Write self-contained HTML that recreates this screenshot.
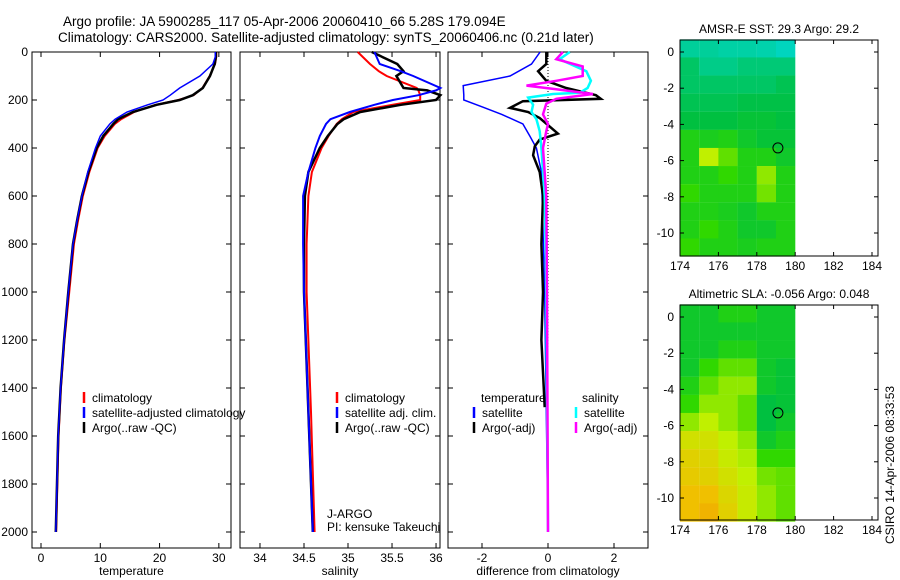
<!DOCTYPE html>
<html><head><meta charset="utf-8"><style>
body{margin:0;background:#fff;}
svg{display:block;font-family:"Liberation Sans",sans-serif;}
</style></head><body>
<svg id="fig" width="900" height="580" viewBox="0 0 900 580" xmlns="http://www.w3.org/2000/svg">
<text x="63" y="26" font-size="13.5">Argo profile: JA 5900285_117 05-Apr-2006 20060410_66 5.28S 179.094E</text>
<text x="58" y="42" font-size="13.5">Climatology: CARS2000. Satellite-adjusted climatology: synTS_20060406.nc (0.21d later)</text>
<text transform="translate(894,465) rotate(-90)" text-anchor="middle" font-size="12">CSIRO 14-Apr-2006 08:33:53</text>
</svg>
<script>
// ---- data ----
const tDepth=[0,20,50,100,150,180,200,220,250,280,300,350,400,500,600,700,800,1000,1200,1400,1600,1800,2000];
const tArgo=[29.5,29.5,29.3,28.5,27.3,25.6,23.4,19.5,15.5,13,12.2,10.5,9.4,8,6.9,6.1,5.4,4.6,3.9,3.3,2.9,2.7,2.5];
const tClim=[29.6,29.6,29.4,28.4,27.2,25.8,23,19.2,15.8,13.6,12.5,10.8,9.6,8.2,7.1,6.3,5.6,4.8,4.0,3.4,3.0,2.8,2.6];
const tSat=[29.4,29.4,29.0,26.8,23.4,21.8,20.6,18,14.5,12.5,11.6,10,9.2,7.9,6.9,6.1,5.4,4.6,3.9,3.3,2.9,2.7,2.5];
const sDepth=[0,50,80,100,150,160,180,200,220,250,280,300,350,400,500,600,800,1000,1500,2000];
const sArgo=[35.27,35.56,35.63,35.55,35.63,35.9,36.05,36.0,35.6,35.14,34.95,34.88,34.77,34.68,34.55,34.51,34.5,34.5,34.55,34.6];
const sClim=[35.11,35.25,35.35,35.44,35.78,35.8,35.82,35.82,35.5,35.06,34.93,34.87,34.78,34.7,34.59,34.55,34.53,34.53,34.58,34.62];
const sSat=[35.3,35.36,35.6,35.74,36.05,36.0,35.8,35.51,35.3,35.02,34.8,34.75,34.68,34.63,34.55,34.49,34.49,34.5,34.55,34.6];
const dtDepth=[0,50,100,140,180,200,230,260,300,350,400,500,1000,1500,2000];
const dtSat=[-0.24,-0.5,-1.15,-2.57,-2.55,-2.55,-1.97,-1.4,-0.76,-0.55,-0.35,-0.2,-0.1,-0.05,0];
const daDepth=[0,50,80,120,150,180,195,205,233,250,275,340,365,393,430,500,600,800,1000,1200,1480];
const daArgo=[-0.05,-0.05,-0.3,-0.05,0.55,1.45,1.6,-0.76,-1.15,-0.6,-0.25,0.3,-0.25,-0.4,-0.45,-0.25,-0.15,-0.2,-0.15,-0.2,-0.1];
const dsDepth=[0,30,80,120,150,170,175,190,220,250,280,330,400,600,1000,2000];
const dsSat=[0.66,0.35,1.16,1.3,1.2,0.96,0.15,-0.6,-0.45,-0.5,-0.35,-0.25,-0.2,-0.1,-0.05,0];
const dmDepth=[0,30,60,100,120,140,155,175,195,215,260,300,330,400,600,1000,2000];
const dmArgo=[0.45,0.25,1.05,1.05,0.25,-0.65,0.25,1.36,0.25,-0.05,-0.15,0,-0.05,-0.15,-0.05,-0.03,0];
const depthTicks=[0,200,400,600,800,1000,1200,1400,1600,1800,2000];
const tTicks=[0,10,20,30];
const sTicks=[34,34.5,35,35.5,36];
const dTicks=[-2,0,2];
const lonTicks=[174,176,178,180,182,184];
const latTicks=[0,-2,-4,-6,-8,-10];
const sstGrid=[
[0.15,0.15,0.12,0.12,0.1,0.05],[0.3,0.2,0.2,0.25,0.25,0.25],[0.3,0.3,0.3,0.3,0.3,0.35],
[0.35,0.35,0.35,0.38,0.38,0.38],[0.4,0.4,0.4,0.42,0.42,0.4],[0.5,0.48,0.5,0.45,0.42,0.42],
[0.5,0.7,0.6,0.5,0.5,0.45],[0.5,0.5,0.55,0.5,0.65,0.5],[0.55,0.5,0.5,0.5,0.62,0.5],
[0.5,0.5,0.48,0.45,0.5,0.5],[0.5,0.55,0.5,0.45,0.45,0.5],[0.55,0.5,0.5,0.48,0.5,0.5]];
const slaGrid=[
[0.45,0.45,0.5,0.5,0.45,0.45],[0.45,0.45,0.45,0.45,0.45,0.45],[0.45,0.45,0.5,0.5,0.45,0.45],
[0.45,0.55,0.6,0.6,0.45,0.42],[0.5,0.6,0.65,0.65,0.45,0.42],[0.55,0.65,0.65,0.6,0.4,0.42],
[0.65,0.7,0.65,0.6,0.4,0.45],[0.75,0.75,0.7,0.65,0.45,0.5],[0.8,0.78,0.72,0.68,0.55,0.55],
[0.82,0.8,0.75,0.7,0.62,0.6],[0.85,0.85,0.78,0.72,0.65,0.6],[0.85,0.88,0.8,0.72,0.65,0.6]];
const floatPos=[179.1,-5.3];

const NS='http://www.w3.org/2000/svg';
const svg=document.getElementById('fig');
function mk(tag,attrs,parent){const e=document.createElementNS(NS,tag);for(const k in attrs)e.setAttribute(k,attrs[k]);(parent||svg).appendChild(e);return e;}
const Y0=52,YB=548,yD=d=>Y0+d*0.24;

function panel(name,x0,x1,vmin,vmax,ticks,label,fmt){
  const g=mk('g',{});
  
  
  const xs=v=>x0+(v-vmin)/(vmax-vmin)*(x1-x0);
  const r=mk('rect',{x:x0,y:Y0,width:x1-x0,height:YB-Y0,fill:'none',stroke:'#000','stroke-width':1},g);
  
  
  ticks.forEach(t=>{const x=xs(t);
    mk('line',{x1:x,x2:x,y1:YB,y2:YB-5,stroke:'#000'},g);mk('line',{x1:x,x2:x,y1:Y0,y2:Y0+5,stroke:'#000'},g);
    const tx=mk('text',{x:x,y:YB+14,'font-size':12,'text-anchor':'middle'},g);tx.textContent=fmt(t);
    
    });
  depthTicks.forEach(d=>{const y=yD(d);mk('line',{x1:x0,x2:x0+5,y1:y,y2:y,stroke:'#000'},g);mk('line',{x1:x1,x2:x1-5,y1:y,y2:y,stroke:'#000'},g);});
  const lt=mk('text',{x:(x0+x1)/2,y:575,'font-size':12,'text-anchor':'middle'},g);lt.textContent=label;
  
  
  return {g,xs};
}
function line(p,depths,vals,color,w,name){
  const pts=depths.map((d,i)=>p.xs(vals[i]).toFixed(1)+','+yD(d).toFixed(1)).join(' ');
  const pl=mk('polyline',{points:pts,fill:'none',stroke:color,'stroke-width':w},p.g);
  
  
}
function legend(p,x,y,color,txt){
  mk('line',{x1:x,x2:x,y1:y-10,y2:y+1,stroke:color,'stroke-width':2.5},p.g);
  const t=mk('text',{x:x+8,y:y,'font-size':12},p.g);t.textContent=txt;
  
  
}
// y axis labels
depthTicks.forEach(d=>{const t=mk('text',{x:28,y:yD(d)+4,'font-size':12,'text-anchor':'end'});t.textContent=d;
  
  });

const p1=panel('temperature-panel',32,231,-1.52,32.05,tTicks,'temperature',v=>v);
line(p1,tDepth,tClim,'#f00',1.5,'temp-climatology-line');
line(p1,tDepth,tArgo,'#000',2.5,'temp-argo-line');
line(p1,tDepth,tSat,'#00f',1.5,'temp-satellite-line');
legend(p1,84,402,'#f00','climatology');legend(p1,84,417,'#00f','satellite-adjusted climatology');legend(p1,84,432,'#000','Argo(..raw -QC)');

const p2=panel('salinity-panel',240,440,33.773,36.045,sTicks,'salinity',v=>v);
line(p2,sDepth,sClim,'#f00',2,'sal-climatology-line');
line(p2,sDepth,sArgo,'#000',2.5,'sal-argo-line');
line(p2,sDepth,sSat,'#00f',2,'sal-satellite-line');
legend(p2,337,402,'#f00','climatology');legend(p2,337,417,'#00f','satellite adj. clim.');legend(p2,337,432,'#000','Argo(..raw -QC)');
const j1=mk('text',{x:327,y:518,'font-size':12},p2.g);j1.textContent='J-ARGO';


const j2=mk('text',{x:327,y:531,'font-size':12},p2.g);j2.textContent='PI: kensuke Takeuchi';



const p3=panel('difference-panel',448,648,-3.03,3.03,dTicks,'difference from climatology',v=>v);
const zl=mk('line',{x1:p3.xs(0),x2:p3.xs(0),y1:Y0,y2:yD(1450),stroke:'#000','stroke-dasharray':'1,2'},p3.g);


line(p3,dtDepth,dtSat,'#00f',1.5,'temp-satellite-diff');
line(p3,daDepth,daArgo,'#000',2.5,'temp-argo-diff');
line(p3,dsDepth,dsSat,'#0ff',2.5,'sal-satellite-diff');
line(p3,dmDepth,dmArgo,'#f0f',2.5,'sal-argo-diff');
const th=mk('text',{x:481,y:402,'font-size':12},p3.g);th.textContent='temperature';


const sh=mk('text',{x:582,y:402,'font-size':12},p3.g);sh.textContent='salinity';


legend(p3,474,417,'#00f','satellite');legend(p3,474,432,'#000','Argo(-adj)');
legend(p3,576,417,'#0ff','satellite');legend(p3,576,432,'#f0f','Argo(-adj)');

// maps
const stops=[[0,[0,216,208]],[0.4,[0,192,64]],[0.55,[48,216,0]],[0.7,[192,240,0]],[0.85,[240,192,0]],[1,[240,128,0]]];
function cmap(v){for(let i=1;i<stops.length;i++){if(v<=stops[i][0]){const a=stops[i-1],b=stops[i],f=(v-a[0])/(b[0]-a[0]);
  return 'rgb('+a[1].map((c,k)=>Math.round(c+(b[1][k]-c)*f)).join(',')+')';}}return 'rgb(240,128,0)';}
function map(name,top,bottom,y0,title,grid){
  const g=mk('g',{});
  
  
  const lx=lon=>680+(lon-174)*19.2, ly=lat=>y0-lat*18.1;
  grid.forEach((row,ri)=>row.forEach((v,ci)=>{
    const la=0.7-ri, lo=174+ci;
    const c=mk('rect',{x:lx(lo),y:ly(la),width:19.3,height:18.2,fill:cmap(v)},g);
    
    
  }));
  const f=mk('rect',{x:680,y:top,width:198,height:bottom-top,fill:'none',stroke:'#000'},g);
  
  
  lonTicks.forEach(l=>{const x=lx(l);mk('line',{x1:x,x2:x,y1:bottom,y2:bottom-4,stroke:'#000'},g);mk('line',{x1:x,x2:x,y1:top,y2:top+4,stroke:'#000'},g);
    const t=mk('text',{x:x,y:bottom+14,'font-size':12,'text-anchor':'middle'},g);t.textContent=l;
    
    });
  latTicks.forEach(l=>{const y=ly(l);mk('line',{x1:680,x2:684,y1:y,y2:y,stroke:'#000'},g);mk('line',{x1:878,x2:874,y1:y,y2:y,stroke:'#000'},g);
    const t=mk('text',{x:674,y:y+4,'font-size':12,'text-anchor':'end'},g);t.textContent=l;
    
    });
  const c=mk('circle',{cx:lx(floatPos[0]),cy:ly(floatPos[1]),r:5,fill:'none',stroke:'#000'},g);
  
  
  const tt=mk('text',{x:779,y:top-7,'font-size':12,'text-anchor':'middle'},g);tt.textContent=title;
  
  
}
map('sst-map',40,256,52,'AMSR-E SST: 29.3 Argo: 29.2',sstGrid);
map('sla-map',305,520,317,'Altimetric SLA: -0.056 Argo: 0.048',slaGrid);
</script>
</body></html>
